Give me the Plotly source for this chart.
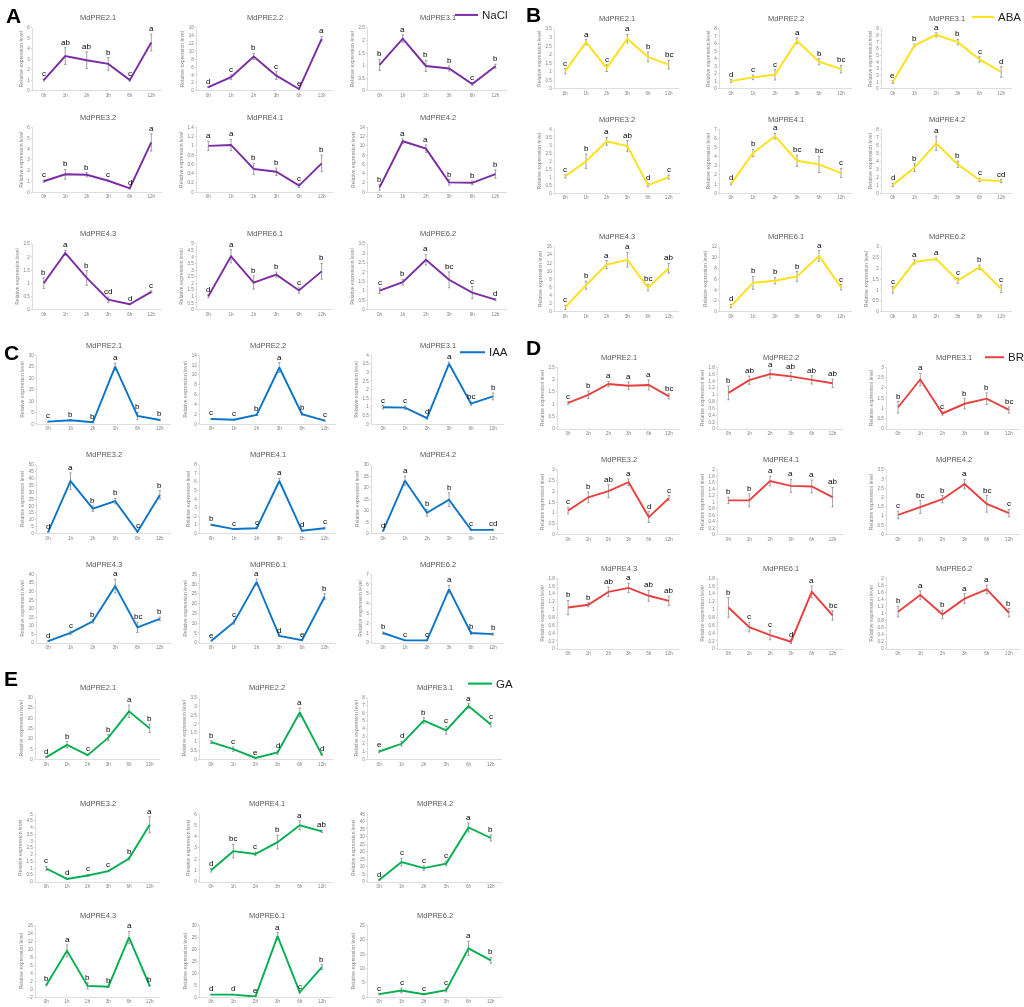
import plotly.graph_objects as go

W, H = 1024, 1007

times = ["0h", "1h", "2h", "3h", "6h", "12h"]
genes = ["MdPRE2.1", "MdPRE2.2", "MdPRE3.1", "MdPRE3.2", "MdPRE4.1",
         "MdPRE4.2", "MdPRE4.3", "MdPRE6.1", "MdPRE6.2"]
treatments = ["NaCl", "ABA", "IAA", "BR", "GA"]
panel_letters = ["A", "B", "C", "D", "E"]

# ---------------- NaCl ----------------
nacl_values = [
    [1.0, 3.3, 2.9, 2.55, 1.0, 4.6],
    [0.9, 3.4, 8.7, 3.8, 0.4, 13.2],
    [1.02, 2.07, 0.98, 0.88, 0.26, 0.97],
    [1.0, 1.65, 1.6, 1.05, 0.35, 4.6],
    [1.0, 1.02, 0.5, 0.44, 0.14, 0.62],
    [1.0, 11.0, 9.4, 2.1, 2.0, 3.9],
    [1.0, 2.15, 1.2, 0.37, 0.2, 0.67],
    [1.0, 4.05, 2.05, 2.65, 1.45, 2.9],
    [1.0, 1.45, 2.65, 1.58, 0.9, 0.52],
]
nacl_errors = [
    [0.1, 0.8, 0.8, 0.6, 0.1, 0.8],
    [0.1, 0.6, 0.8, 1.0, 0.1, 0.6],
    [0.22, 0.15, 0.22, 0.1, 0.05, 0.08],
    [0.1, 0.45, 0.2, 0.05, 0.05, 0.8],
    [0.1, 0.12, 0.12, 0.08, 0.04, 0.18],
    [0.6, 0.5, 0.8, 0.6, 0.4, 0.9],
    [0.2, 0.1, 0.28, 0.1, 0.02, 0.04],
    [0.1, 0.5, 0.5, 0.2, 0.2, 0.6],
    [0.15, 0.15, 0.28, 0.42, 0.32, 0.05],
]
nacl_letters = [
    ["c", "ab", "ab", "b", "c", "a"],
    ["d", "c", "b", "c", "e", "a"],
    ["b", "a", "b", "b", "c", "b"],
    ["c", "b", "b", "c", "d", "a"],
    ["a", "a", "b", "b", "c", "b"],
    ["b", "a", "a", "b", "b", "b"],
    ["b", "a", "b", "cd", "d", "c"],
    ["d", "a", "b", "b", "c", "b"],
    ["c", "b", "a", "bc", "c", "d"],
]
nacl_ymax = [6, 16, 2.5, 6, 1.4, 14, 2.5, 5, 3.5]
nacl_dtick = [1, 2, 0.5, 1, 0.2, 2, 0.5, 0.5, 0.5]
nacl_ymin = [0, 0, 0, 0, 0, 0, 0, 0, 0]

# ---------------- ABA ----------------
aba_values = [
    [1.02, 2.72, 1.2, 2.92, 1.85, 1.4],
    [1.0, 1.5, 1.85, 6.4, 3.6, 2.6],
    [1.0, 6.5, 8.1, 7.0, 4.4, 2.5],
    [1.05, 2.0, 3.25, 2.95, 0.5, 1.0],
    [1.0, 4.4, 6.25, 3.55, 3.15, 2.2],
    [1.0, 3.2, 6.25, 3.6, 1.65, 1.5],
    [1.0, 6.5, 11.6, 12.8, 5.9, 10.7],
    [1.0, 5.3, 5.7, 6.5, 10.3, 4.5],
    [1.0, 2.3, 2.43, 1.43, 2.05, 1.05],
]
aba_errors = [
    [0.15, 0.15, 0.2, 0.25, 0.28, 0.25],
    [0.2, 0.3, 0.7, 0.4, 0.4, 0.5],
    [0.2, 0.2, 0.3, 0.4, 0.4, 0.8],
    [0.1, 0.45, 0.25, 0.35, 0.1, 0.12],
    [0.1, 0.4, 0.3, 0.6, 0.9, 0.5],
    [0.2, 0.5, 0.9, 0.4, 0.2, 0.2],
    [0.5, 1.0, 1.0, 1.8, 0.8, 1.2],
    [0.3, 1.2, 0.6, 0.9, 1.0, 0.5],
    [0.15, 0.1, 0.05, 0.12, 0.1, 0.18],
]
aba_letters = [
    ["c", "a", "c", "a", "b", "bc"],
    ["d", "c", "c", "a", "b", "bc"],
    ["e", "b", "a", "b", "c", "d"],
    ["c", "b", "a", "ab", "d", "c"],
    ["d", "b", "a", "bc", "bc", "c"],
    ["d", "b", "a", "b", "c", "cd"],
    ["c", "b", "a", "a", "bc", "ab"],
    ["d", "b", "b", "b", "a", "c"],
    ["c", "a", "a", "c", "b", "c"],
]
aba_ymax = [3.5, 8, 9, 4, 7, 8, 16, 12, 3]
aba_dtick = [0.5, 1, 1, 0.5, 1, 1, 2, 2, 0.5]
aba_ymin = [0, 0, 0, 0, 0, 0, 0, 0, 0]

# ---------------- IAA ----------------
iaa_values = [
    [1.0, 1.6, 0.7, 25.0, 3.5, 1.7],
    [1.0, 0.85, 1.85, 11.5, 2.0, 0.65],
    [0.97, 0.95, 0.33, 3.5, 1.18, 1.6],
    [1.0, 38.0, 18.0, 23.5, 1.2, 28.0],
    [1.0, 0.5, 0.6, 6.1, 0.3, 0.6],
    [1.0, 23.0, 9.0, 14.7, 1.5, 1.5],
    [1.0, 5.8, 12.5, 33.0, 9.0, 14.0],
    [1.0, 10.5, 31.0, 3.5, 1.3, 23.5],
    [1.0, 0.25, 0.25, 5.45, 1.0, 0.88],
]
iaa_errors = [
    [0.2, 0.2, 0.1, 1.5, 1.5, 0.3],
    [0.1, 0.1, 0.1, 1.0, 0.2, 0.1],
    [0.1, 0.1, 0.05, 0.1, 0.1, 0.2],
    [0.2, 6.0, 2.0, 2.0, 0.2, 3.0],
    [0.05, 0.05, 0.05, 0.3, 0.05, 0.1],
    [0.1, 2.0, 1.5, 3.0, 0.3, 0.3],
    [0.1, 1.0, 1.0, 4.0, 3.0, 1.0],
    [0.1, 1.0, 1.5, 0.2, 0.2, 1.5],
    [0.1, 0.02, 0.02, 0.4, 0.15, 0.1],
]
iaa_letters = [
    ["c", "b", "b", "a", "b", "b"],
    ["c", "c", "b", "a", "b", "c"],
    ["c", "c", "d", "a", "bc", "b"],
    ["d", "a", "b", "b", "c", "b"],
    ["b", "c", "c", "a", "d", "c"],
    ["d", "a", "b", "b", "c", "cd"],
    ["d", "c", "b", "a", "bc", "b"],
    ["e", "c", "a", "d", "e", "b"],
    ["b", "c", "c", "a", "b", "b"],
]
iaa_ymax = [30, 14, 4, 50, 8, 30, 40, 35, 7]
iaa_dtick = [5, 2, 0.5, 5, 1, 5, 5, 5, 1]
iaa_ymin = [0, 0, 0, 0, 0, 0, 0, 0, 0]

# ---------------- BR ----------------
br_values = [
    [1.05, 1.38, 1.82, 1.75, 1.78, 1.32],
    [1.05, 1.42, 1.6, 1.53, 1.43, 1.33],
    [1.05, 2.4, 0.75, 1.22, 1.47, 0.92],
    [1.1, 1.72, 2.0, 2.42, 0.8, 1.68],
    [1.05, 1.05, 1.65, 1.5, 1.48, 1.15],
    [1.05, 1.48, 1.9, 2.72, 1.65, 1.15],
    [1.05, 1.12, 1.45, 1.55, 1.35, 1.22],
    [1.05, 0.55, 0.35, 0.18, 1.45, 0.85],
    [1.05, 1.52, 0.97, 1.42, 1.68, 1.02],
]
br_errors = [
    [0.05, 0.15, 0.1, 0.15, 0.2, 0.1],
    [0.2, 0.12, 0.12, 0.12, 0.12, 0.12],
    [0.28, 0.3, 0.08, 0.25, 0.28, 0.15],
    [0.15, 0.25, 0.3, 0.15, 0.25, 0.12],
    [0.1, 0.2, 0.15, 0.2, 0.2, 0.3],
    [0.2, 0.35, 0.2, 0.25, 0.45, 0.2],
    [0.18, 0.05, 0.12, 0.12, 0.14, 0.12],
    [0.25, 0.12, 0.12, 0.05, 0.15, 0.12],
    [0.15, 0.12, 0.12, 0.14, 0.12, 0.12],
]
br_letters = [
    ["c", "b", "a", "a", "a", "bc"],
    ["b", "ab", "a", "ab", "ab", "ab"],
    ["b", "a", "c", "b", "b", "bc"],
    ["c", "b", "ab", "a", "d", "c"],
    ["b", "b", "a", "a", "a", "ab"],
    ["c", "bc", "b", "a", "bc", "c"],
    ["b", "b", "ab", "a", "ab", "ab"],
    ["b", "c", "c", "d", "a", "bc"],
    ["b", "a", "b", "a", "a", "b"],
]
br_ymax = [2.5, 1.8, 3, 3, 2, 3.5, 1.8, 1.8, 2]
br_dtick = [0.5, 0.2, 0.5, 0.5, 0.2, 0.5, 0.2, 0.2, 0.2]
br_ymin = [0, 0, 0, 0, 0, 0, 0, 0, 0]

# ---------------- GA ----------------
ga_values = [
    [1.0, 7.0, 2.0, 10.5, 23.3, 15.0],
    [0.97, 0.57, 0.07, 0.38, 2.65, 0.25],
    [1.0, 2.0, 5.0, 3.75, 6.9, 4.5],
    [0.97, 0.2, 0.45, 0.78, 1.7, 4.2],
    [1.0, 2.7, 2.45, 3.5, 5.0, 4.45],
    [1.0, 13.0, 9.0, 12.0, 36.0, 29.0],
    [1.0, 9.6, 0.8, 0.6, 13.0, 0.8],
    [1.0, 1.0, 0.2, 25.5, 2.0, 12.5],
    [1.0, 2.3, 1.0, 2.4, 17.0, 12.8],
]
ga_errors = [
    [0.2, 1.5, 0.3, 1.5, 3.0, 2.0],
    [0.08, 0.12, 0.02, 0.1, 0.25, 0.04],
    [0.15, 0.3, 0.4, 0.5, 0.3, 0.3],
    [0.15, 0.03, 0.08, 0.05, 0.1, 0.6],
    [0.15, 0.6, 0.15, 0.6, 0.4, 0.1],
    [0.2, 2.5, 1.5, 1.5, 3.0, 2.0],
    [0.2, 1.5, 0.8, 0.2, 1.5, 0.1],
    [0.1, 0.1, 0.05, 1.5, 0.3, 1.0],
    [0.2, 0.8, 0.2, 0.6, 2.5, 1.0],
]
ga_letters = [
    ["d", "b", "c", "b", "a", "b"],
    ["b", "c", "e", "d", "a", "d"],
    ["e", "d", "b", "c", "a", "c"],
    ["c", "d", "c", "c", "b", "a"],
    ["d", "bc", "c", "b", "a", "ab"],
    ["d", "c", "c", "c", "a", "b"],
    ["b", "a", "b", "b", "a", "b"],
    ["d", "d", "e", "a", "c", "b"],
    ["c", "c", "c", "c", "a", "b"],
]
ga_ymax = [30, 3.5, 8, 5, 6, 45, 16, 30, 25]
ga_dtick = [5, 0.5, 1, 0.5, 1, 5, 2, 5, 5]
ga_ymin = [0, 0, 0, 0, 0, 0, -2, 0, 0]

all_values = [nacl_values, aba_values, iaa_values, br_values, ga_values]
all_errors = [nacl_errors, aba_errors, iaa_errors, br_errors, ga_errors]
all_letters = [nacl_letters, aba_letters, iaa_letters, br_letters, ga_letters]
all_ymax = [nacl_ymax, aba_ymax, iaa_ymax, br_ymax, ga_ymax]
all_dtick = [nacl_dtick, aba_dtick, iaa_dtick, br_dtick, ga_dtick]
all_ymin = [nacl_ymin, aba_ymin, iaa_ymin, br_ymin, ga_ymin]

# ---------------- layout (pixels) ----------------
colors = ["#7B2CA3", "#FFE014", "#0B74C8", "#E8403F", "#00B050"]
panel_cols = [
    [(33, 162), (197, 333), (368, 507)],
    [(555, 679), (720, 852), (882, 1012)],
    [(37, 171), (200, 336), (372, 504)],
    [(558, 679), (718, 843), (887, 1020)],
    [(36, 160), (200, 333), (368, 502)],
]
panel_rows = [
    [(26, 89), (126, 191), (243, 309)],
    [(27, 87), (128, 192), (246, 311)],
    [(355, 424), (465, 534), (575, 644)],
    [(367, 429), (470, 535), (579, 650)],
    [(699, 761), (816, 884), (928, 1000)],
]
letter_pos = [(4, 14), (524, 13), (2, 352), (524, 347), (2, 680)]
# legend key: (line start px, line end px, y px)
legend_key = [(455, 478, 13), (972, 994, 15), (460, 485, 352),
              (985, 1004, 357), (468, 492, 685)]

FONT = "Liberation Sans, Arial, sans-serif"


def px_x(p):
    return p / W


def px_y(p):
    return 1 - p / H


fig = go.Figure()
annotations = []
shapes = []
layout_axes = {}

for p in range(5):
    for g in range(9):
        r, c = divmod(g, 3)
        k = p * 9 + g + 1
        xs = "" if k == 1 else str(k)
        x0, x1 = panel_cols[p][c]
        y0, y1 = panel_rows[p][r]
        vals = all_values[p][g]
        errs = all_errors[p][g]
        fig.add_trace(go.Scatter(
            x=times, y=vals, mode="lines",
            line=dict(color=colors[p], width=1.9),
            error_y=dict(type="data", array=errs, visible=True,
                         color="#8a8a8a", thickness=0.8, width=1.2),
            xaxis="x" + xs, yaxis="y" + xs,
            name=treatments[p],
            showlegend=False,
            hoverinfo="skip",
        ))
        layout_axes["xaxis" + xs] = dict(
            domain=[px_x(x0), px_x(x1)], anchor="y" + xs,
            type="category", range=[-0.5, 5.5],
            showline=True, linecolor="#d4d4d4", linewidth=0.8,
            showgrid=False, zeroline=False, ticks="",
            tickfont=dict(size=4.6, color="#7f7f7f", family=FONT),
            fixedrange=True,
        )
        layout_axes["yaxis" + xs] = dict(
            domain=[px_y(y1), px_y(y0)], anchor="x" + xs,
            range=[all_ymin[p][g], all_ymax[p][g]],
            dtick=all_dtick[p][g], tick0=0,
            showline=True, linecolor="#d4d4d4", linewidth=0.8,
            showgrid=False, zeroline=False,
            ticks="outside", ticklen=1.5, tickcolor="#d4d4d4",
            tickfont=dict(size=4.6, color="#7f7f7f", family=FONT),
            title=dict(text="Relative expression level",
                       font=dict(size=5.1, color="#7f7f7f", family=FONT),
                       standoff=3),
            fixedrange=True,
        )
        # subplot title
        annotations.append(dict(
            text=genes[g], x=px_x((x0 + x1) / 2), y=px_y(y0 - 10),
            xref="paper", yref="paper", showarrow=False,
            xanchor="center", yanchor="middle",
            font=dict(size=7.5, color="#595959", family=FONT),
        ))
        # significance letters
        for i in range(6):
            annotations.append(dict(
                text=all_letters[p][g][i], x=times[i], y=vals[i] + errs[i],
                xref="x" + xs, yref="y" + xs, showarrow=False,
                xanchor="center", yanchor="bottom", yshift=-1,
                font=dict(size=8, color="#000000", family=FONT),
            ))
    # panel letter
    lx, ly = letter_pos[p]
    annotations.append(dict(
        text="<b>" + panel_letters[p] + "</b>", x=px_x(lx), y=px_y(ly),
        xref="paper", yref="paper", showarrow=False,
        xanchor="left", yanchor="middle",
        font=dict(size=21, color="#000000", family=FONT),
    ))
    # treatment key (legend)
    kx0, kx1, ky = legend_key[p]
    shapes.append(dict(
        type="line", xref="paper", yref="paper",
        x0=px_x(kx0), x1=px_x(kx1), y0=px_y(ky), y1=px_y(ky),
        line=dict(color=colors[p], width=2),
    ))
    annotations.append(dict(
        text=treatments[p], x=px_x(kx1 + 2), y=px_y(ky),
        xref="paper", yref="paper", showarrow=False,
        xanchor="left", yanchor="middle",
        font=dict(size=11.5, color="#222222", family=FONT),
    ))

fig.update_layout(
    width=W, height=H, autosize=False,
    margin=dict(l=0, r=0, t=0, b=0),
    paper_bgcolor="white", plot_bgcolor="white",
    showlegend=False,
    annotations=annotations,
    shapes=shapes,
    **layout_axes,
)

fig.write_html(
    "out.html",
    config={"displayModeBar": False, "staticPlot": True},
    post_script=(
        "document.body.style.margin='0';"
        "document.querySelectorAll('svg.main-svg').forEach(function(s){"
        "s.style.willChange='transform';});"
    ),
)
